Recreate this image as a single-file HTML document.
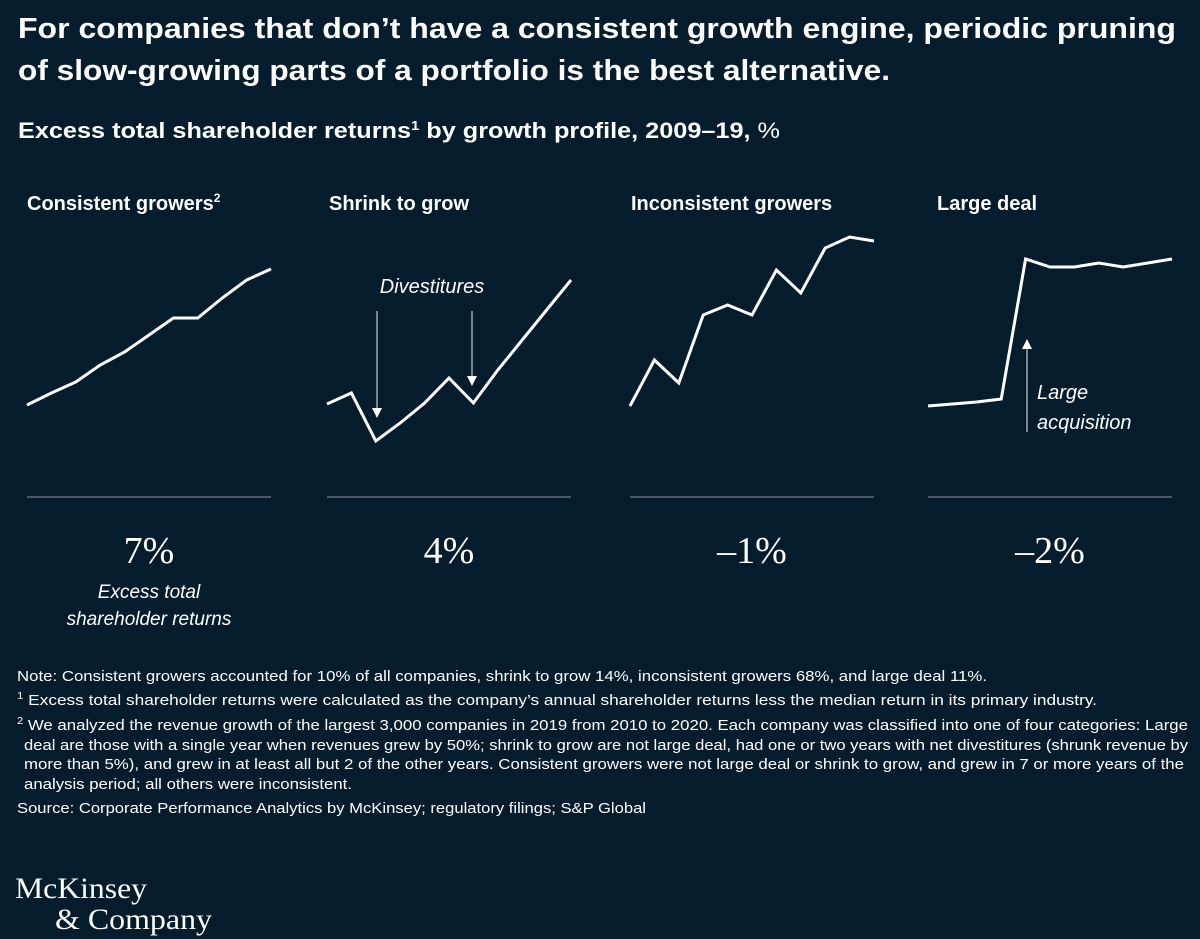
<!DOCTYPE html>
<html><head><meta charset="utf-8"><style>
html,body{margin:0;padding:0;background:#051c2c;}
svg{display:block;}
text{fill:#fff;font-family:"Liberation Sans",sans-serif;}
</style></head><body>
<svg width="1200" height="939" viewBox="0 0 1200 939">
<rect width="1200" height="939" fill="#051c2c"/>
<text x="18" y="38" font-size="29" font-weight="bold" textLength="1158" lengthAdjust="spacingAndGlyphs">For companies that don’t have a consistent growth engine, periodic pruning</text>
<text x="18" y="80" font-size="29" font-weight="bold" textLength="872" lengthAdjust="spacingAndGlyphs">of slow-growing parts of a portfolio is the best alternative.</text>
<text x="18" y="138" font-size="22" font-weight="bold" textLength="762" lengthAdjust="spacingAndGlyphs">Excess total shareholder returns<tspan font-size="13" dy="-8">1</tspan><tspan dy="8"> by growth profile, 2009–19, </tspan><tspan font-weight="normal">%</tspan></text>

<text x="27" y="210" font-size="20" font-weight="bold">Consistent growers<tspan font-size="12" dy="-8">2</tspan></text>
<text x="329" y="210" font-size="20" font-weight="bold">Shrink to grow</text>
<text x="631" y="210" font-size="20" font-weight="bold">Inconsistent growers</text>
<text x="937" y="210" font-size="20" font-weight="bold">Large deal</text>

<g id="charts"></g>

<text x="432" y="293" font-size="20" font-style="italic" text-anchor="middle">Divestitures</text>
<text x="1037" y="399" font-size="20" font-style="italic">Large</text>
<text x="1037" y="429" font-size="20" font-style="italic">acquisition</text>

<g font-family="Liberation Serif">
<text x="149" y="563" font-size="38" text-anchor="middle" style="font-family:'Liberation Serif',serif">7%</text>
<text x="449" y="563" font-size="38" text-anchor="middle" style="font-family:'Liberation Serif',serif">4%</text>
<text x="752" y="563" font-size="38" text-anchor="middle" style="font-family:'Liberation Serif',serif">–1%</text>
<text x="1050" y="563" font-size="38" text-anchor="middle" style="font-family:'Liberation Serif',serif">–2%</text>
</g>
<text x="149" y="598" font-size="19" font-style="italic" text-anchor="middle">Excess total</text>
<text x="149" y="625" font-size="19" font-style="italic" text-anchor="middle">shareholder returns</text>

<g font-size="15">
<text x="17" y="681" textLength="970" lengthAdjust="spacingAndGlyphs">Note: Consistent growers accounted for 10% of all companies, shrink to grow 14%, inconsistent growers 68%, and large deal 11%.</text>
<text x="17" y="705" textLength="1080" lengthAdjust="spacingAndGlyphs"><tspan font-size="10" dy="-6">1</tspan><tspan dy="6"> Excess total shareholder returns were calculated as the company’s annual shareholder returns less the median return in its primary industry.</tspan></text>
<text x="17" y="730" textLength="1171" lengthAdjust="spacingAndGlyphs"><tspan font-size="10" dy="-6">2</tspan><tspan dy="6"> We analyzed the revenue growth of the largest 3,000 companies in 2019 from 2010 to 2020. Each company was classified into one of four categories: Large</tspan></text>
<text x="24" y="750" textLength="1164" lengthAdjust="spacingAndGlyphs">deal are those with a single year when revenues grew by 50%; shrink to grow are not large deal, had one or two years with net divestitures (shrunk revenue by</text>
<text x="24" y="769" textLength="1160" lengthAdjust="spacingAndGlyphs">more than 5%), and grew in at least all but 2 of the other years. Consistent growers were not large deal or shrink to grow, and grew in 7 or more years of the</text>
<text x="24" y="789" textLength="328" lengthAdjust="spacingAndGlyphs">analysis period; all others were inconsistent.</text>
<text x="17" y="813" textLength="629" lengthAdjust="spacingAndGlyphs">Source: Corporate Performance Analytics by McKinsey; regulatory filings; S&amp;P Global</text>
</g>
<text x="15" y="898" font-size="30" style="font-family:'Liberation Serif',serif" textLength="132" lengthAdjust="spacingAndGlyphs">McKinsey</text>
<text x="55" y="929" font-size="30" style="font-family:'Liberation Serif',serif" textLength="157" lengthAdjust="spacingAndGlyphs">&amp; Company</text>
</svg>
<script>
// Index values (higher = higher on chart), 2009–2019
const years = [2009,2010,2011,2012,2013,2014,2015,2016,2017,2018,2019];
const consistentValues = [0,12,23,40,53,70,87,87,107,125,136];
const shrinkValues = [37,48,0,18,38,63,38,71,101,131,161];
const inconsistentValues = [0,46,23,91,101,91,136,113,158,169,165];
const largeDealValues = [0,2,4,7,147,139,139,143,139,143,147];
const panelLefts = [27,327,630,928];
const seriesList = [consistentValues, shrinkValues, inconsistentValues, largeDealValues];
const seriesNames = ['consistent-growers','shrink-to-grow','inconsistent-growers','large-deal'];
const baseY = [405,441,406,406];
const panelWidth = 244;
const NS = 'http://www.w3.org/2000/svg';
const g = document.getElementById('charts');
function xScale(p, i){ return panelLefts[p] + i * panelWidth / (years.length - 1); }
function yScale(p, v){ return baseY[p] - v; }
seriesList.forEach((vals, p) => {
  const pts = vals.map((v,i) => xScale(p,i).toFixed(1) + ',' + yScale(p,v).toFixed(1)).join(' ');
  const pl = document.createElementNS(NS,'polyline');
  pl.setAttribute('points', pts);
  pl.setAttribute('fill','none');
  pl.setAttribute('stroke','#fff');
  pl.setAttribute('stroke-width','3');
  pl.setAttribute('stroke-linejoin','miter');
  
  
  g.appendChild(pl);
  const ln = document.createElementNS(NS,'line');
  ln.setAttribute('x1', panelLefts[p]); ln.setAttribute('x2', panelLefts[p] + panelWidth);
  ln.setAttribute('y1', 497); ln.setAttribute('y2', 497);
  ln.setAttribute('stroke','#8a949c'); ln.setAttribute('stroke-width','1');
  
  
  g.appendChild(ln);
});
// annotation arrows
function arrow(x, y1, y2, name){
  const l = document.createElementNS(NS,'line');
  l.setAttribute('x1',x); l.setAttribute('x2',x);
  l.setAttribute('y1',y1); l.setAttribute('y2', y2 > y1 ? y2 - 8 : y2 + 8);
  l.setAttribute('stroke','#c8ced3'); l.setAttribute('stroke-width','1.2');
  
  
  g.appendChild(l);
  const h = document.createElementNS(NS,'polygon');
  const d = y2 > y1 ? -10 : 10;
  h.setAttribute('points', `${x-5},${y2+d} ${x+5},${y2+d} ${x},${y2}`);
  h.setAttribute('fill','#fff');
  
  
  g.appendChild(h);
}
arrow(377, 311, 418, 'divestiture-arrow-1');
arrow(472, 311, 386, 'divestiture-arrow-2');
arrow(1027, 432, 339, 'acquisition-arrow');
</script>
</body></html>
